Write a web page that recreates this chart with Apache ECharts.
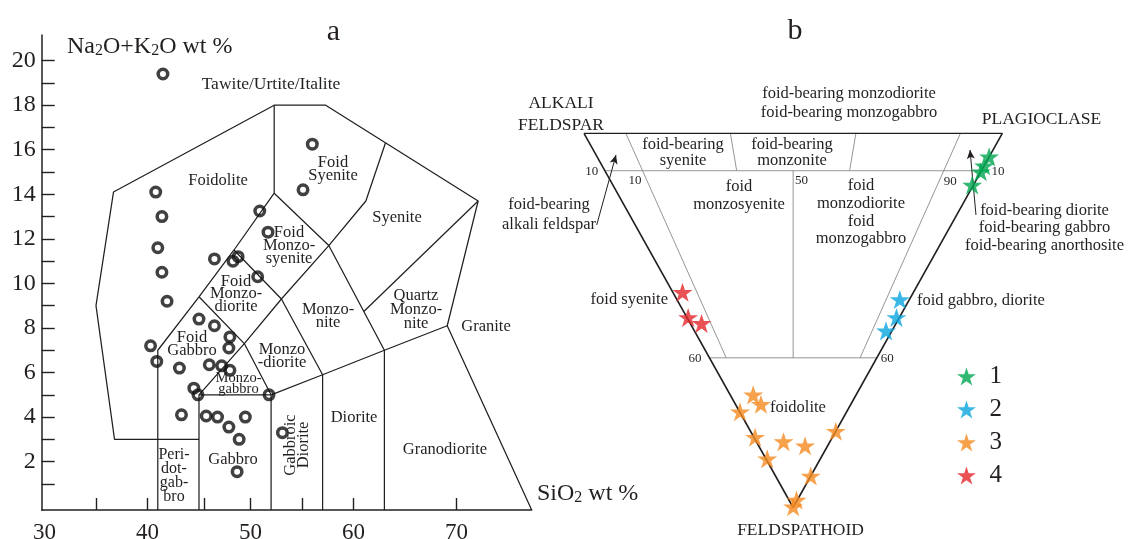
<!DOCTYPE html>
<html>
<head>
<meta charset="utf-8">
<script src="https://cdn.jsdelivr.net/npm/echarts@6/dist/echarts.min.js"></script>
<style>
  html, body { margin: 0; padding: 0; background: #fff; }
  #chart { width: 1129px; height: 539px; }
</style>
</head>
<body>
<div id="chart"></div>
<script>
const FONT = '"Liberation Serif", "Times New Roman", serif';
const INK = '#231f20';

// ---- Panel a: TAS diagram for plutonic rocks ----
// sample compositions, wt %
const sio2 = [41.5, 40.8, 41.4, 41.0, 41.4, 41.9, 40.3, 40.9, 43.1, 44.5, 44.9, 43.3,
              45.0, 46.5, 48.0, 47.9, 46.0, 47.2, 48.0, 45.7, 46.8, 49.5, 47.9, 48.9,
              48.7, 51.8, 53.1, 46.5, 48.3, 48.8, 50.7, 50.9, 51.7, 55.1, 56.0];
const alkalis = [19.4, 14.1, 13.0, 11.6, 10.5, 9.2, 7.2, 6.5, 6.2, 5.3, 5.0, 4.1,
                 8.4, 8.1, 7.6, 7.1, 6.35, 6.3, 6.1, 4.05, 4.0, 4.0, 3.55, 3.0,
                 1.55, 5.0, 3.3, 11.1, 11.0, 11.2, 10.3, 13.25, 12.3, 14.2, 16.25];

// axis ranges and ticks
const SIO2_MIN = 29.73, SIO2_MAX = 77.3;
const ALK_MIN = -0.17, ALK_MAX = 21.15;
const alkTicks = [1,2,3,4,5,6,7,8,9,10,11,12,13,14,15,16,17,18,19,20];
const alkLabels = [2,4,6,8,10,12,14,16,18,20];
const sio2Ticks = [35, 40, 45.5, 50, 55, 60, 70];
const sio2Labels = [30, 40, 50, 60, 70];

// field boundaries (SiO2, Na2O+K2O); ALK_MIN = down to the axis
const fieldLines = [
  [[45,3],[36.8,3],[35,9],[36.7,14.1],[52.3,18],[57.3,18],[72.1,13.7],[69.1,8.1],[77.3,ALK_MIN]],
  [[41,ALK_MIN],[41,7],[45,9.4],[48.4,11.5],[52.3,14.05],[52.3,18]],
  [[45,ALK_MIN],[45,5],[52,5],[52,ALK_MIN]],
  [[45,5],[49.4,7.3],[53,9.3],[57.6,11.7],[61.2,13.7],[63.1,16.3]],
  [[45,9.4],[49.4,7.3],[52,5]],
  [[48.4,11.5],[53,9.3],[57,5.9],[57,ALK_MIN]],
  [[52.3,14.05],[57.6,11.7],[63,7],[63,ALK_MIN]],
  [[52,5],[57,5.9],[63,7],[69.1,8.1]],
  [[61,8.74],[72.1,13.7]]
];

// ---- Panel b: A-P-F (alkali feldspar, plagioclase, feldspathoid) ----
// modal compositions [A, P, F], %
const group1 = [[0,93.7,6.3],[0,91.3,8.7],[0,89.7,10.3],[0.3,85.9,13.8]];
const group2 = [[2.3,53.3,44.4],[0.7,50.1,49.2],[1.4,45.8,52.8]];
const group3 = [[24.6,5.5,69.9],[21.5,6.1,72.4],[25.5,0.1,74.4],[18.5,0.3,81.2],
                [11.1,6.5,82.4],[5.4,11.1,83.5],[0,20.4,79.6],[12.7,0.3,87.0],
                [0,8.4,91.6],[0.2,1.8,98.0],[0.1,0.1,99.8]];
const group4 = [[55.2,2.3,42.5],[50.5,0.3,49.2],[46.5,2.7,50.8]];
const groupNames = ['1', '2', '3', '4'];
const groupColors = ['#00a651', '#0aa5e0', '#f58a1f', '#e3262a'];

// triangle outline and field boundaries, [A, P, F]
const triangle = [[100,0,0],[0,100,0],[0,0,100],[100,0,0]];
const apfLines = [
  [[90,0,10],[0,90,10]],
  [[40,0,60],[0,40,60]],
  [[90,10,0],[36,4,60]],
  [[10,90,0],[4,36,60]],
  [[65,35,0],[58.5,31.5,10]],
  [[35,65,0],[31.5,58.5,10]],
  [[45,45,10],[20,20,60]]
];

// pointer arrows in the triangle's plane (u across, v down)
const arrows = [
  { from: [0.0304, 0.245], to: [0.0765, 0.058], curve: -0.22 },
  { from: [0.7554, -0.031], to: [0.7554, 0.0714], curve: 0 },
  { from: [0.9371, 0.2183], to: [0.9228, 0.0446], curve: 0 }
];

const STAR = 'path://M50 0 L61.8 36.2 L100 36.2 L69.1 58.6 L80.9 95.1 L50 72.7 L19.1 95.1 L30.9 58.6 L0 36.2 L38.2 36.2 Z';

// ternary -> plane: u = P + F/2, v = F
function tern(c) {
  const s = c[0] + c[1] + c[2];
  const p = c[1] / s, f = c[2] / s;
  return [p + f / 2, f];
}

function txt(x, y, text, size, extra) {
  extra = extra || {};
  return Object.assign({
    type: 'text', x: x, y: y, silent: true, z: 20,
    style: Object.assign({
      text: text,
      font: size + 'px ' + FONT,
      fill: INK,
      align: 'center',
      verticalAlign: 'middle',
      lineHeight: extra.lh || size
    }, extra.style || {})
  }, extra.el || {});
}

function subText(x, y, parts, size) {
  // parts: [text, isSub]
  const s = parts.map(p => (p[1] ? '{s|' : '{m|') + p[0] + '}').join('');
  return {
    type: 'text', x: x, y: y, silent: true, z: 20,
    style: {
      text: s, fill: INK, align: 'left', verticalAlign: 'middle',
      rich: {
        m: { fontFamily: FONT, fontSize: size, lineHeight: size + 3, verticalAlign: 'bottom', fill: INK },
        s: { fontFamily: FONT, fontSize: Math.round(size * 0.66), lineHeight: Math.round(size * 0.66), verticalAlign: 'bottom', fill: INK }
      }
    }
  };
}

const series = [];

fieldLines.forEach(pl => {
  series.push({
    type: 'line', xAxisIndex: 0, yAxisIndex: 0, data: pl,
    showSymbol: false, symbol: 'none', silent: true, z: 2,
    lineStyle: { color: INK, width: 1.25 }
  });
});

series.push({
  type: 'scatter', xAxisIndex: 0, yAxisIndex: 0,
  data: sio2.map((x, i) => [x, alkalis[i]]),
  symbol: 'circle', symbolSize: 9.5, z: 5,
  itemStyle: { color: 'rgba(0,0,0,0)', borderColor: '#111', borderWidth: 3.5 }
});

apfLines.forEach(seg => {
  series.push({
    type: 'line', xAxisIndex: 1, yAxisIndex: 1, data: seg.map(tern),
    showSymbol: false, symbol: 'none', silent: true, z: 2,
    lineStyle: { color: '#8a8a8a', width: 0.9 }
  });
});

series.push({
  type: 'line', xAxisIndex: 1, yAxisIndex: 1, data: triangle.map(tern),
  showSymbol: false, symbol: 'none', silent: true, z: 3,
  lineStyle: { color: INK, width: 1.6 }
});

series.push({
  type: 'scatter', xAxisIndex: 1, yAxisIndex: 1, data: [], silent: true, z: 4,
  markLine: {
    silent: true, symbol: ['none', 'arrow'], symbolSize: [6, 9], animation: false,
    label: { show: false },
    data: arrows.map(a => [
      { coord: a.from, lineStyle: { color: INK, width: 1, type: 'solid', curveness: a.curve } },
      { coord: a.to }
    ])
  }
});

[group1, group2, group3, group4].forEach((g, i) => {
  series.push({
    name: groupNames[i], type: 'scatter', xAxisIndex: 1, yAxisIndex: 1,
    data: g.map(tern), symbol: STAR, symbolSize: 20, symbolKeepAspect: true, z: 6,
    itemStyle: { color: groupColors[i] }
  });
});

const graphic = [
  txt(333.5, 32, 'a', 30),
  txt(795, 31, 'b', 30),
  subText(67, 45, [['Na', 0], ['2', 1], ['O+K', 0], ['2', 1], ['O wt %', 0]], 24),
  subText(537, 492, [['SiO', 0], ['2', 1], [' wt %', 0]], 24),

  // TAS field names
  txt(271, 84, 'Tawite/Urtite/Italite', 17.5),
  txt(218, 181, 'Foidolite', 16.5),
  txt(333, 169, 'Foid\nSyenite', 16.5, { lh: 13 }),
  txt(397, 218, 'Syenite', 16.5),
  txt(289, 245.5, 'Foid\nMonzo-\nsyenite', 16.5, { lh: 13 }),
  txt(236, 294, 'Foid\nMonzo-\ndiorite', 16.5, { lh: 12.5 }),
  txt(192, 344, 'Foid\nGabbro', 16.5, { lh: 13.5 }),
  txt(328, 316, 'Monzo-\nnite', 16.5, { lh: 13 }),
  txt(282, 356, 'Monzo\n-diorite', 16.5, { lh: 12.5 }),
  txt(238.5, 384, 'Monzo-\ngabbro', 14.5, { lh: 11 }),
  txt(416, 310, 'Quartz\nMonzo-\nnite', 16.5, { lh: 14 }),
  txt(486, 326.5, 'Granite', 16.5),
  txt(354, 418, 'Diorite', 16.5),
  txt(445, 449.5, 'Granodiorite', 16.5),
  txt(297.5, 445, 'Gabbroic\nDiorite', 16.5, { lh: 13, el: { rotation: Math.PI / 2 } }),
  txt(174, 475.5, 'Peri-\ndot-\ngab-\nbro', 16, { lh: 14 }),
  txt(233, 460, 'Gabbro', 16.5),

  // A-P-F corner names
  txt(561, 114.5, 'ALKALI\nFELDSPAR', 17.5, { lh: 22 }),
  txt(1041.5, 119, 'PLAGIOCLASE', 17.5),
  txt(800.5, 530, 'FELDSPATHOID', 17.5),

  // A-P-F field names
  txt(849, 103, 'foid-bearing monzodiorite\nfoid-bearing monzogabbro', 16.5, { lh: 18.5 }),
  txt(683, 152.5, 'foid-bearing\nsyenite', 16.5, { lh: 15.5 }),
  txt(792, 152.5, 'foid-bearing\nmonzonite', 16.5, { lh: 15.5 }),
  txt(739, 195.5, 'foid\nmonzosyenite', 16.5, { lh: 18 }),
  txt(861, 212.5, 'foid\nmonzodiorite\nfoid\nmonzogabbro', 16.5, { lh: 17.7 }),
  txt(549, 215, 'foid-bearing\nalkali feldspar', 16.5, { lh: 20 }),
  txt(1044.5, 228, 'foid-bearing diorite\nfoid-bearing gabbro\nfoid-bearing anorthosite', 16.5, { lh: 17.7 }),
  txt(668, 299.5, 'foid syenite', 16.5, { style: { align: 'right' } }),
  txt(917, 300.5, 'foid gabbro, diorite', 16.5, { style: { align: 'left' } }),
  txt(770, 408, 'foidolite', 16.5, { style: { align: 'left' } }),

  // A-P-F boundary values
  txt(591.7, 172, '10', 13),
  txt(635, 181, '10', 13),
  txt(801.5, 181, '50', 13),
  txt(950.3, 181.3, '90', 13),
  txt(998, 171.7, '10', 13),
  txt(695, 359, '60', 13),
  txt(887.3, 359, '60', 13)
];

const option = {
  animation: false,
  backgroundColor: '#ffffff',
  grid: [
    { left: 41.7, top: 35, width: 490, height: 475, containLabel: false, outerBoundsMode: 'none' },
    { left: 584, top: 133.3, width: 418.3, height: 374.2, containLabel: false, outerBoundsMode: 'none' }
  ],
  xAxis: [
    {
      gridIndex: 0, type: 'value', min: SIO2_MIN, max: SIO2_MAX,
      axisLine: { show: true, onZero: false, lineStyle: { color: INK, width: 1.5 } },
      axisTick: { show: true, inside: true, length: 12, customValues: sio2Ticks, lineStyle: { color: INK, width: 1.4 } },
      axisLabel: { show: true, customValues: sio2Labels, margin: 11, fontSize: 23, fontFamily: FONT, color: INK },
      splitLine: { show: false }
    },
    { gridIndex: 1, type: 'value', min: 0, max: 1, show: false }
  ],
  yAxis: [
    {
      gridIndex: 0, type: 'value', min: ALK_MIN, max: ALK_MAX,
      axisLine: { show: true, onZero: false, lineStyle: { color: INK, width: 1.5 } },
      axisTick: { show: true, inside: true, length: 13, customValues: alkTicks, lineStyle: { color: INK, width: 1.4 } },
      axisLabel: { show: true, customValues: alkLabels, margin: 6, fontSize: 24, fontFamily: FONT, color: INK },
      splitLine: { show: false }
    },
    { gridIndex: 1, type: 'value', min: 0, max: 1, inverse: true, show: false }
  ],
  legend: {
    data: groupNames, orient: 'vertical', left: 952, top: 359,
    itemWidth: 36, itemHeight: 18, itemGap: 8, icon: STAR,
    textStyle: { fontSize: 25, fontFamily: FONT, color: INK },
    selectedMode: false
  },
  series: series,
  graphic: graphic
};

const chart = echarts.init(document.getElementById('chart'), null, { renderer: 'canvas' });
chart.setOption(option);
</script>
</body>
</html>
